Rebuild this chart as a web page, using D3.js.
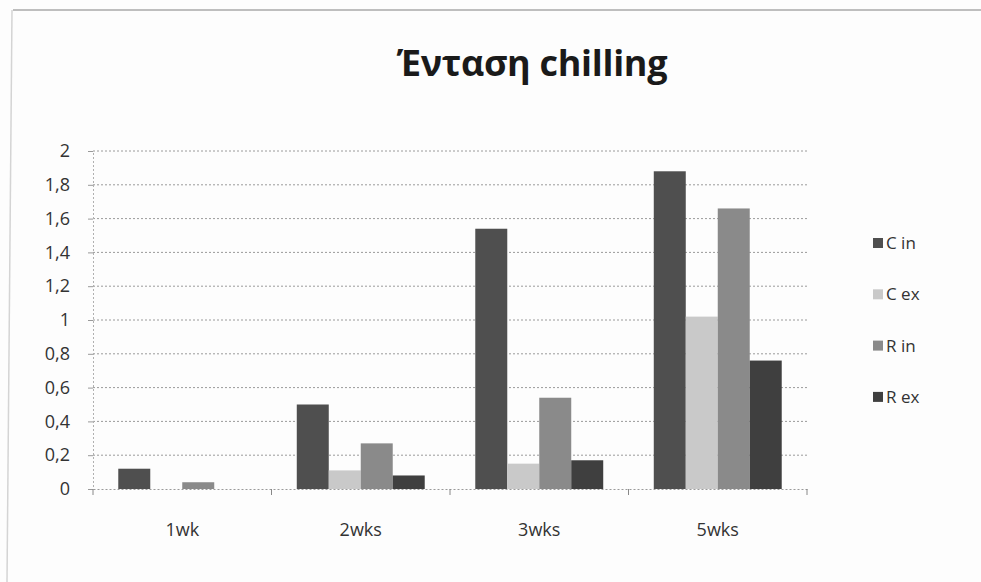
<!DOCTYPE html>
<html>
<head>
<meta charset="utf-8">
<script src="https://cdn.jsdelivr.net/npm/d3@7"></script>
<style>
  html, body { margin: 0; padding: 0; background: #fdfdfd; }
  svg { display: block; }
</style>
</head>
<body>
<svg id="chart" width="981" height="582"></svg>
<script>
// Weeks of chilling treatment
const categories = ["1wk", "2wks", "3wks", "5wks"];
const seriesNames = ["C in", "C ex", "R in", "R ex"];
const cIn = [0.12, 0.50, 1.54, 1.88];
const cEx = [0.00, 0.11, 0.15, 1.02];
const rIn = [0.04, 0.27, 0.54, 1.66];
const rEx = [0.00, 0.08, 0.17, 0.76];
const yTicks = [0, 0.2, 0.4, 0.6, 0.8, 1, 1.2, 1.4, 1.6, 1.8, 2];
const seriesColors = ["#4f4f4f", "#c9c9c9", "#8a8a8a", "#3f3f3f"];

const series = [cIn, cEx, rIn, rEx];

const svg = d3.select("#chart");
const plotLeft = 93, plotRight = 807, plotTop = 151, plotBottom = 489;
const font = "'Open Sans', 'Noto Sans', sans-serif";

// frame lines
svg.append("line").attr("x1", 13).attr("x2", 981).attr("y1", 10).attr("y2", 10)
  .attr("stroke", "#a8a8a8").attr("stroke-width", 1.5);
svg.append("line").attr("x1", 12).attr("x2", 7).attr("y1", 10).attr("y2", 582)
  .attr("stroke", "#d4d4d4").attr("stroke-width", 1.5);

// title
svg.append("text").attr("x", 532).attr("y", 76).attr("text-anchor", "middle")
  .attr("font-family", font)
  .attr("font-weight", "bold").attr("font-size", 36).attr("fill", "#1a1a1a")
  .attr("letter-spacing", -0.3)
  .text("Ένταση chilling");

const x0 = d3.scaleBand().domain(categories).range([plotLeft, plotRight]).paddingInner(0).paddingOuter(0);
const x1 = d3.scaleBand().domain(seriesNames).range([0, x0.bandwidth()]).paddingOuter(0.79).paddingInner(0);
const y = d3.scaleLinear().domain([0, 2]).range([plotBottom, plotTop]);

const fmt = v => String(+v.toFixed(1)).replace(".", ",");

// gridlines
svg.append("g").selectAll("line").data(yTicks.slice(1)).join("line")
  .attr("x1", plotLeft).attr("x2", plotRight)
  .attr("y1", d => y(d)).attr("y2", d => y(d))
  .attr("stroke", "#9a9a9a").attr("stroke-width", 1).attr("stroke-dasharray", "2,2");

// y axis
const yAxis = d3.axisLeft(y).tickValues(yTicks).tickFormat(fmt).tickSize(5).tickPadding(18);
const gy = svg.append("g").attr("transform", `translate(${plotLeft},0)`).call(yAxis);
gy.select(".domain").attr("stroke", "#b0b0b0").attr("stroke-dasharray", "2,2");
gy.selectAll(".tick line").attr("stroke", "#999");
gy.selectAll("text").attr("font-family", font)
  .attr("font-size", 18).attr("fill", "#333");

// bars
const groups = svg.append("g").selectAll("g").data(categories).join("g")
  .attr("transform", d => `translate(${x0(d)},0)`);
groups.selectAll("rect")
  .data((d, i) => series.map((s, k) => ({ name: seriesNames[k], value: s[i], color: seriesColors[k] })))
  .join("rect")
  .attr("x", d => x1(d.name))
  .attr("width", x1.bandwidth())
  .attr("y", d => y(d.value))
  .attr("height", d => plotBottom - y(d.value))
  .attr("fill", d => d.color);

// x axis
const xAxis = d3.axisBottom(x0).tickSize(0).tickPadding(34);
const gx = svg.append("g").attr("transform", `translate(0,${plotBottom})`).call(xAxis);
gx.select(".domain").attr("stroke", "#9a9a9a").attr("stroke-dasharray", "2,2");
gx.selectAll("text").attr("font-family", font)
  .attr("font-size", 18).attr("fill", "#333").attr("dy", "0.71em");
// category separators
svg.append("g").selectAll("line")
  .data(categories.map(c => x0(c)).concat([plotRight]))
  .join("line")
  .attr("x1", d => d).attr("x2", d => d)
  .attr("y1", plotBottom).attr("y2", plotBottom + 6)
  .attr("stroke", "#888");

// legend
const legend = svg.append("g").selectAll("g").data(seriesNames).join("g")
  .attr("transform", (d, i) => `translate(873,${243 + i * 51.3})`);
legend.append("rect").attr("x", 0).attr("y", -5).attr("width", 10).attr("height", 10)
  .attr("fill", (d, i) => seriesColors[i]);
legend.append("text").attr("x", 13).attr("y", 0).attr("dy", "0.35em")
  .attr("font-family", font)
  .attr("font-size", 17).attr("fill", "#333").text(d => d);
</script>
</body>
</html>
